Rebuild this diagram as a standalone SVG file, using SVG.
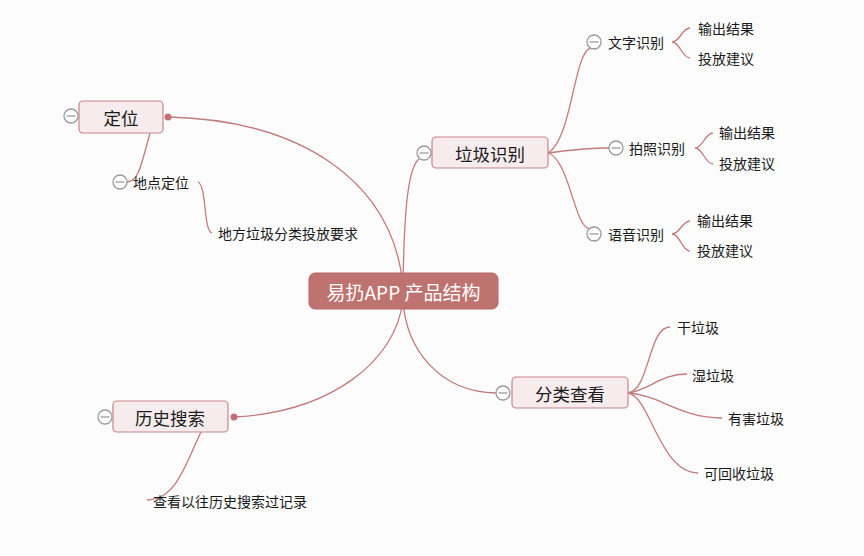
<svg xmlns="http://www.w3.org/2000/svg" width="864" height="556" viewBox="0 0 864 556">
<style>
.bg{fill:#fcfcfc}
.ln{fill:none;stroke:#c27b7b;stroke-width:1.3}
.main{fill:#bf7371;stroke:#b8696a;stroke-width:1}
.ctext{font-family:"Noto Sans CJK SC","Noto Sans",sans-serif;font-size:19px;fill:#ffffff;text-anchor:middle;dominant-baseline:central}
.box{fill:#f6eced;stroke:#c98487;stroke-width:1.2}
.t1{font-family:"Noto Sans CJK SC","Noto Sans",sans-serif;font-size:17.5px;fill:#1a1a1a;text-anchor:middle;dominant-baseline:central}
.t2{font-family:"Noto Sans CJK SC","Noto Sans",sans-serif;font-size:14px;fill:#1a1a1a;dominant-baseline:central}
.col{fill:#ffffff;stroke:#9a9a9a;stroke-width:1.3}
.colm{stroke:#9a9a9a;stroke-width:1.3}
.dot{fill:#c27073}
</style>
<defs>
<g id="collapse"><circle class="col" r="7"/><line class="colm" x1="-4.5" y1="0" x2="4.5" y2="0"/></g>
</defs>
<rect class="bg" width="864" height="556"/>
<g id="connectors">
<path class="ln" d="M168,117 C 300,120 392,180 403,285"/>
<path class="ln" d="M403,285 C 404,220 407,168 419,159"/>
<path class="ln" d="M403,300 C 406,350 440,392 496,393"/>
<path class="ln" d="M234,417 C 330,412 396,362 403,300"/>
<path class="ln" d="M150,133 C 140,170 138,181 127,182"/>
<path class="ln" d="M198,182 C 207,186 203,230 212,233"/>
<path class="ln" d="M201,432 C 185,465 176,500 147,500"/>
<path class="ln" d="M548,153 C 572,140 574,50 591,48"/>
<path class="ln" d="M548,153 C 570,150 590,148 609,148"/>
<path class="ln" d="M548,153 C 570,160 574,228 590,229"/>
<path class="ln" d="M672,42 C 680,42 682,28 690,28 M672,42 C 680,42 682,58 690,58"/>
<path class="ln" d="M695,148 C 703,148 705,133 713,133 M695,148 C 703,148 705,164 713,164"/>
<path class="ln" d="M672,234 C 680,234 682,221 690,221 M672,234 C 680,234 682,251 690,251"/>
<path class="ln" d="M628,393 C 650,390 648,327 670,327"/>
<path class="ln" d="M628,393 C 650,390 660,374 687,374"/>
<path class="ln" d="M628,393 C 660,395 680,418 722,418"/>
<path class="ln" d="M628,393 C 650,396 660,473 698,473"/>
</g>
<g id="center">
<rect class="main" x="309" y="273" width="189" height="36" rx="6"/>
<text class="ctext" x="403.5" y="291">易扔APP 产品结构</text>
</g>
<g id="n-dingwei">
<rect class="box" x="79" y="101" width="84" height="32" rx="4"/>
<text class="t1" x="121" y="117">定位</text>
<use href="#collapse" x="71" y="116"/>
<circle class="dot" cx="168" cy="117" r="3.5"/>
</g>
<g id="n-didian">
<use href="#collapse" x="120" y="182"/>
<text class="t2" x="133" y="182">地点定位</text>
</g>
<g id="n-difang">
<text class="t2" x="218" y="233">地方垃圾分类投放要求</text>
</g>
<g id="n-lajishibie">
<rect class="box" x="432" y="137" width="116" height="31" rx="4"/>
<text class="t1" x="490" y="153">垃圾识别</text>
<use href="#collapse" x="424" y="153"/>
</g>
<g id="n-wenzi">
<use href="#collapse" x="594" y="42"/>
<text class="t2" x="608" y="42">文字识别</text>
</g>
<g id="n-wenzi-1"><text class="t2" x="698" y="28">输出结果</text></g>
<g id="n-wenzi-2"><text class="t2" x="698" y="58">投放建议</text></g>
<g id="n-paizhao">
<use href="#collapse" x="616" y="148"/>
<text class="t2" x="629" y="148">拍照识别</text>
</g>
<g id="n-paizhao-1"><text class="t2" x="719" y="132">输出结果</text></g>
<g id="n-paizhao-2"><text class="t2" x="719" y="163">投放建议</text></g>
<g id="n-yuyin">
<use href="#collapse" x="594" y="234"/>
<text class="t2" x="608" y="234">语音识别</text>
</g>
<g id="n-yuyin-1"><text class="t2" x="697" y="220">输出结果</text></g>
<g id="n-yuyin-2"><text class="t2" x="697" y="250">投放建议</text></g>
<g id="n-fenlei">
<rect class="box" x="512" y="377" width="116" height="31" rx="4"/>
<text class="t1" x="570" y="393">分类查看</text>
<use href="#collapse" x="503" y="393"/>
</g>
<g id="n-gan"><text class="t2" x="677" y="327">干垃圾</text></g>
<g id="n-shi"><text class="t2" x="692" y="375">湿垃圾</text></g>
<g id="n-youhai"><text class="t2" x="728" y="418">有害垃圾</text></g>
<g id="n-kehuishou"><text class="t2" x="704" y="473">可回收垃圾</text></g>
<g id="n-lishi">
<rect class="box" x="113" y="401" width="115" height="31" rx="4"/>
<text class="t1" x="170" y="417">历史搜索</text>
<use href="#collapse" x="105" y="417"/>
<circle class="dot" cx="234" cy="417" r="3.5"/>
</g>
<g id="n-chakan"><text class="t2" x="153" y="501">查看以往历史搜索过记录</text></g>
</svg>
